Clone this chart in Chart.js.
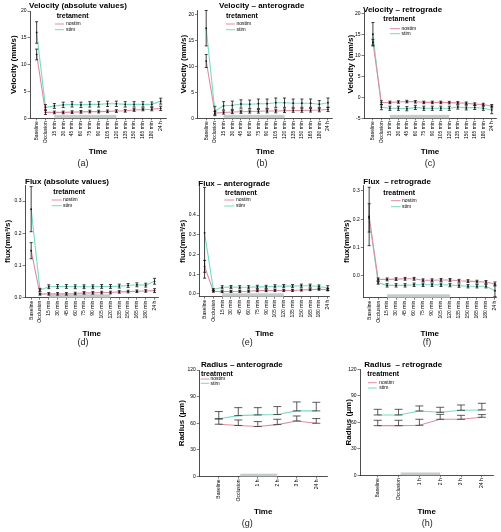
<!DOCTYPE html>
<html>
<head>
<meta charset="utf-8">
<script src="https://cdn.jsdelivr.net/npm/chart.js@4.4.1/dist/chart.umd.min.js"></script>
<style>
  html, body { margin: 0; padding: 0; background: #fff; }
  #fig { position: relative; width: 501px; height: 532px; overflow: hidden; }
  #fig canvas { position: absolute; }
</style>
</head>
<body>
<div id="fig"></div>
<script>
var timeLabels = ['Baseline', 'Occlusion', '15 min', '30 min', '45 min', '60 min', '75 min', '90 min', '105 min', '120 min', '135 min', '150 min', '165 min', '180 min', '24 h'];
var radiusLabels = ['Baseline', 'Occlusion', '1 h', '2 h', '3 h', '24 h'];

// y tick labels
var velTicks = [0, 5, 10, 15, 20];
var velRetTicks = [-5, 0, 5, 10, 15, 20];
var fluxTicks = [0, 0.1, 0.2, 0.3];
var fluxAntTicks = [0, 0.1, 0.2, 0.3, 0.4];
var radiusTicks = [0, 30, 60, 90, 120];

// (a) velocity, absolute values
var velAbsNostim = [11.9, 1.1, 1.1, 1.1, 1.15, 1.2, 1.25, 1.25, 1.3, 1.35, 1.4, 1.55, 1.65, 1.7, 1.85];
var velAbsNostimSE = [1.0, 0.4, 0.25, 0.25, 0.25, 0.25, 0.25, 0.25, 0.25, 0.25, 0.25, 0.25, 0.25, 0.3, 0.4];
var velAbsStim = [16.0, 2.05, 2.3, 2.5, 2.6, 2.5, 2.6, 2.6, 2.7, 2.7, 2.6, 2.6, 2.6, 2.6, 3.2];
var velAbsStimSE = [2.0, 0.5, 0.45, 0.5, 0.5, 0.5, 0.5, 0.5, 0.5, 0.5, 0.5, 0.5, 0.5, 0.45, 0.55];

// (b) velocity, anterograde
var velAntNostim = [11.0, 1.0, 1.1, 1.2, 1.25, 1.3, 1.35, 1.4, 1.4, 1.45, 1.5, 1.5, 1.55, 1.6, 1.7];
var velAntNostimSE = [1.25, 0.3, 0.3, 0.3, 0.3, 0.3, 0.35, 0.35, 0.35, 0.35, 0.35, 0.35, 0.35, 0.35, 0.4];
var velAntStim = [17.3, 1.4, 2.4, 2.5, 2.75, 2.7, 2.8, 2.8, 3.0, 3.0, 2.9, 2.9, 2.9, 2.7, 3.0];
var velAntStimSE = [3.4, 0.9, 0.8, 0.8, 0.8, 0.8, 0.9, 0.9, 0.9, 0.9, 0.8, 0.8, 0.8, 0.7, 0.9];

// (c) velocity, retrograde
var velRetNostim = [13.2, -1.25, -1.2, -1.1, -1.0, -1.05, -1.2, -1.2, -1.2, -1.25, -1.3, -1.4, -1.6, -1.7, -2.1];
var velRetNostimSE = [0.7, 0.45, 0.3, 0.3, 0.3, 0.3, 0.3, 0.3, 0.3, 0.3, 0.3, 0.3, 0.3, 0.3, 0.4];
var velRetStim = [15.1, -2.35, -2.6, -2.6, -2.7, -2.4, -2.6, -2.6, -2.6, -2.6, -2.3, -2.5, -2.4, -2.6, -3.0];
var velRetStimSE = [2.8, 0.6, 0.5, 0.5, 0.5, 0.5, 0.5, 0.5, 0.5, 0.5, 0.5, 0.5, 0.5, 0.5, 0.9];

// (d) flux, absolute values
var fluxAbsNostim = [0.146, 0.011, 0.012, 0.012, 0.012, 0.013, 0.015, 0.015, 0.016, 0.016, 0.018, 0.019, 0.020, 0.021, 0.022];
var fluxAbsNostimSE = [0.025, 0.003, 0.004, 0.004, 0.004, 0.004, 0.004, 0.004, 0.004, 0.004, 0.004, 0.004, 0.004, 0.004, 0.006];
var fluxAbsStim = [0.275, 0.024, 0.034, 0.035, 0.035, 0.034, 0.034, 0.034, 0.035, 0.035, 0.036, 0.038, 0.040, 0.039, 0.051];
var fluxAbsStimSE = [0.07, 0.005, 0.006, 0.006, 0.006, 0.006, 0.006, 0.006, 0.006, 0.006, 0.006, 0.006, 0.006, 0.006, 0.009];

// (e) flux, anterograde
var fluxAntNostim = [0.14, 0.013, 0.012, 0.013, 0.013, 0.014, 0.017, 0.017, 0.018, 0.018, 0.018, 0.020, 0.022, 0.024, 0.022];
var fluxAntNostimSE = [0.03, 0.004, 0.005, 0.005, 0.005, 0.005, 0.005, 0.005, 0.005, 0.005, 0.005, 0.005, 0.005, 0.005, 0.006];
var fluxAntStim = [0.31, 0.022, 0.034, 0.035, 0.034, 0.034, 0.036, 0.036, 0.039, 0.040, 0.040, 0.042, 0.042, 0.038, 0.030];
var fluxAntStimSE = [0.23, 0.005, 0.008, 0.008, 0.008, 0.008, 0.008, 0.008, 0.008, 0.008, 0.008, 0.008, 0.008, 0.008, 0.012];

// (f) flux, retrograde
var fluxRetNostim = [0.21, -0.012, -0.012, -0.011, -0.010, -0.010, -0.015, -0.015, -0.014, -0.014, -0.017, -0.018, -0.020, -0.021, -0.028];
var fluxRetNostimSE = [0.103, 0.005, 0.005, 0.005, 0.005, 0.005, 0.005, 0.005, 0.005, 0.005, 0.005, 0.005, 0.005, 0.005, 0.007];
var fluxRetStim = [0.205, -0.024, -0.033, -0.033, -0.033, -0.031, -0.031, -0.031, -0.031, -0.032, -0.034, -0.036, -0.036, -0.036, -0.052];
var fluxRetStimSE = [0.05, 0.005, 0.006, 0.006, 0.006, 0.006, 0.006, 0.006, 0.006, 0.006, 0.006, 0.006, 0.006, 0.006, 0.02];

// (g) radius, anterograde (bars drawn from mean up to mean + SE)
var radAntNostim = [58.9, 57.5, 56.3, 58.5, 62.6, 60.0];
var radAntNostimSE = [6.0, 6.2, 5.6, 6.0, 5.6, 5.3];
var radAntStim = [65.0, 68.6, 69.4, 69.8, 73.9, 73.9];
var radAntStimSE = [8.2, 9.0, 8.2, 9.0, 10.1, 9.7];

// (h) radius, retrograde
var radRetNostim = [56.2, 56.2, 56.6, 63.4, 63.4, 65.7];
var radRetNostimSE = [6.1, 6.1, 6.8, 5.6, 4.5, 3.0];
var radRetStim = [68.3, 68.3, 72.8, 71.3, 73.6, 74.0];
var radRetStimSE = [6.4, 6.4, 5.7, 5.7, 6.0, 7.5];

var FONT = '"Liberation Sans", Arial, sans-serif';
var NOSTIM = 'rgb(224,140,163)';
var STIM = 'rgb(118,220,198)';
var AXIS = '#222';

function series(nostim, nostimSE, stim, stimSE) {
  return [
    { name: 'nostim', color: NOSTIM, mean: nostim, se: nostimSE },
    { name: 'stim', color: STIM, mean: stim, se: stimSE }
  ];
}

var panels = [
  { tag: '(a)', tagPos: [83, 164], box: [0, 0, 167, 172], area: [30, 11, 166, 118.3],
    labels: timeLabels, xRange: [-0.75, 14.6], yRange: [0, 20], yTicks: velTicks, dec: 0,
    yTitle: 'Velocity (mm/s)', yTitleX: 14, timeY: 151.7, band: [2, 9],
    title: 'Velocity (absolute values)', titlePos: [29, 6],
    legend: { title: 'tretament', x: 56.7, y: 16, rows: [24, 29.7], line: [55, 64], textX: 66 },
    series: series(velAbsNostim, velAbsNostimSE, velAbsStim, velAbsStimSE) },
  { tag: '(b)', tagPos: [262, 164], box: [167, 0, 167, 172], area: [197.5, 10, 333.5, 118.3],
    labels: timeLabels, xRange: [-1.0, 14.55], yRange: [0, 20.8], yTicks: velTicks, dec: 0,
    yTitle: 'Velocity (mm/s)', yTitleX: 183.3, timeY: 151.7, band: [2, 9],
    title: 'Velocity \u2013 anterograde', titlePos: [219, 6],
    legend: { title: 'tretament', x: 226, y: 16, rows: [24, 29.7], line: [226, 235], textX: 236.5 },
    series: series(velAntNostim, velAntNostimSE, velAntStim, velAntStimSE) },
  { tag: '(c)', tagPos: [430, 164], box: [334, 0, 167, 172], area: [364, 10, 496, 118.3],
    labels: timeLabels, xRange: [-1.05, 14.5], yRange: [-5, 20.9], yTicks: velRetTicks, dec: 0,
    yTitle: 'Velocity (mm/s)', yTitleX: 350.7, timeY: 151.7, band: [2, 9],
    title: 'Velocity \u2013 retrograde', titlePos: [363, 9.3],
    legend: { title: 'tretament', x: 383.3, y: 19.3, rows: [28.7, 33.7], line: [390, 400], textX: 401.5 },
    series: series(velRetNostim, velRetNostimSE, velRetStim, velRetStimSE) },
  { tag: '(d)', tagPos: [83, 343], box: [0, 172, 167, 180], area: [25, 185, 158.5, 297.7],
    labels: timeLabels, xRange: [-0.7, 14.45], yRange: [0, 0.35], yTicks: fluxTicks, dec: 1,
    yTitle: 'flux(mm\u00b3/s)', yTitleX: 7.3, timeY: 334, band: [2, 9],
    title: 'Flux (absolute values)', titlePos: [25, 182],
    legend: { title: 'tretament', x: 53.3, y: 191.7, rows: [200, 205.7], line: [51.7, 61.7], textX: 63 },
    series: series(fluxAbsNostim, fluxAbsNostimSE, fluxAbsStim, fluxAbsStimSE) },
  { tag: '(e)', tagPos: [247.3, 343], box: [167, 172, 167, 180], area: [199.3, 186, 329.5, 296.7],
    labels: timeLabels, xRange: [-0.6, 14.2], yRange: [-0.0137, 0.547], yTicks: fluxAntTicks, dec: 1,
    yTitle: 'flux(mm\u00b3/s)', yTitleX: 182.3, timeY: 334, band: [2, 9],
    title: 'Flux \u2013 anterograde', titlePos: [198.3, 183.3],
    legend: { title: 'tretament', x: 225, y: 192.7, rows: [200, 206], line: [224.3, 234.3], textX: 236 },
    series: series(fluxAntNostim, fluxAntNostimSE, fluxAntStim, fluxAntStimSE) },
  { tag: '(f)', tagPos: [427, 343], box: [334, 172, 167, 180], area: [363.3, 185, 496.7, 297.7],
    labels: timeLabels, xRange: [-0.65, 14.15], yRange: [-0.0766, 0.321], yTicks: fluxTicks, dec: 1,
    yTitle: 'flux(mm\u00b3/s)', yTitleX: 346.7, timeY: 334, band: [2, 9],
    title: 'Flux  \u2013 retrograde', titlePos: [363.3, 182],
    legend: { title: 'treatment', x: 383.3, y: 193.3, rows: [200.7, 206.7], line: [391, 400.7], textX: 402 },
    series: series(fluxRetNostim, fluxRetNostimSE, fluxRetStim, fluxRetStimSE) },
  { tag: '(g)', tagPos: [247.3, 524], box: [167, 352, 167, 180], area: [199.3, 370, 327, 476.5],
    labels: radiusLabels, xRange: [-1.0, 5.55], yRange: [0, 120], yTicks: radiusTicks, dec: 0,
    yTitle: 'Radius (\u03bcm)', yTitleX: 181.7, timeY: 511.7, band: [1.1, 3], oneSided: true,
    title: 'Radius \u2013 anterograde', titlePos: [201, 365],
    legend: { title: 'treatment', x: 201, y: 373.7, rows: [379, 383.3], line: [200.7, 209.3], textX: 210.5 },
    series: series(radAntNostim, radAntNostimSE, radAntStim, radAntStimSE) },
  { tag: '(h)', tagPos: [427.3, 524], box: [334, 352, 167, 180], area: [360, 369.3, 493.3, 475.3],
    labels: radiusLabels, xRange: [-0.85, 5.55], yRange: [0, 120], yTicks: radiusTicks, dec: 0,
    yTitle: 'Radius (\u03bcm)', yTitleX: 348.3, timeY: 511.7, band: [1.1, 3], oneSided: true,
    title: 'Radius  \u2013 retrograde', titlePos: [364.3, 364.3],
    legend: { title: 'treatment', x: 367.3, y: 373.7, rows: [382.7, 388], line: [368, 376.7], textX: 379.3 },
    series: series(radRetNostim, radRetNostimSE, radRetStim, radRetStimSE) }
];

function makePanel(p) {
  var x0 = p.box[0], y0 = p.box[1], w = p.box[2], h = p.box[3];
  var c = document.createElement('canvas');
  c.width = w; c.height = h;
  c.style.left = x0 + 'px'; c.style.top = y0 + 'px';
  document.getElementById('fig').appendChild(c);

  // grey band, error bars, title, legend and panel tag
  var deco = {
    id: 'deco',
    beforeDatasetsDraw: function (chart) {
      var ctx = chart.ctx, xs = chart.scales.x, ca = chart.chartArea;
      var bh = p.oneSided ? 2.8 : 3.4;
      ctx.save();
      ctx.fillStyle = '#c6cbcb';
      var xa = xs.getPixelForValue(p.band[0]), xb = xs.getPixelForValue(p.band[1]);
      ctx.fillRect(xa, ca.bottom - bh, xb - xa, bh);
      ctx.restore();
    },
    afterDatasetsDraw: function (chart) {
      var ctx = chart.ctx, xs = chart.scales.x, ys = chart.scales.y;
      var cap = p.oneSided ? 4 : 1.5;
      ctx.save();
      ctx.strokeStyle = p.oneSided ? '#333' : '#111';
      ctx.fillStyle = '#111';
      ctx.lineWidth = 0.8;
      p.series.forEach(function (s) {
        s.mean.forEach(function (m, i) {
          var lo = p.oneSided ? m : m - s.se[i];
          var hi = m + s.se[i];
          var px = xs.getPixelForValue(i);
          var pl = ys.getPixelForValue(lo), ph = ys.getPixelForValue(hi);
          ctx.beginPath();
          ctx.moveTo(px, pl); ctx.lineTo(px, ph);
          ctx.moveTo(px - cap, pl); ctx.lineTo(px + cap, pl);
          ctx.moveTo(px - cap, ph); ctx.lineTo(px + cap, ph);
          ctx.stroke();
          if (!p.oneSided) {
            ctx.beginPath();
            ctx.arc(px, ys.getPixelForValue(m), 0.9, 0, Math.PI * 2);
            ctx.fill();
          }
        });
      });
      ctx.restore();
    },
    afterDraw: function (chart) {
      var ctx = chart.ctx, lg = p.legend;
      ctx.save();
      ctx.textBaseline = 'middle';
      ctx.textAlign = 'left';
      ctx.fillStyle = '#000';
      ctx.font = 'bold 8px ' + FONT;
      ctx.fillText(p.title, p.titlePos[0] - x0, p.titlePos[1] - y0);
      ctx.font = 'bold 7px ' + FONT;
      ctx.fillText(lg.title, lg.x - x0, lg.y - y0);
      ctx.font = '5px ' + FONT;
      p.series.forEach(function (s, k) {
        var yy = lg.rows[k] - y0;
        ctx.strokeStyle = s.color;
        ctx.lineWidth = 1;
        ctx.beginPath();
        ctx.moveTo(lg.line[0] - x0, yy); ctx.lineTo(lg.line[1] - x0, yy);
        ctx.stroke();
        ctx.fillText(s.name, lg.textX - x0, yy);
      });
      ctx.textAlign = 'center';
      ctx.fillStyle = '#222';
      ctx.font = '9px ' + FONT;
      ctx.fillText(p.tag, p.tagPos[0] - x0, p.tagPos[1] - y0);
      ctx.restore();
    }
  };

  return new Chart(c.getContext('2d'), {
    type: 'line',
    data: {
      datasets: p.series.map(function (s) {
        return {
          label: s.name,
          data: s.mean.map(function (v, i) { return { x: i, y: v }; }),
          borderColor: s.color,
          borderWidth: 1.1,
          pointRadius: 0,
          tension: 0,
          fill: false
        };
      })
    },
    options: {
      responsive: false,
      animation: false,
      events: [],
      layout: { padding: { left: 0, top: p.area[1] - y0, right: x0 + w - p.area[2], bottom: 0 } },
      plugins: { legend: { display: false }, tooltip: { enabled: false } },
      scales: {
        x: {
          type: 'linear',
          min: p.xRange[0],
          max: p.xRange[1],
          afterBuildTicks: function (s) { s.ticks = p.labels.map(function (_, i) { return { value: i }; }); },
          afterFit: function (s) { s.height = y0 + h - p.area[3]; },
          border: { color: AXIS, width: 0.8 },
          grid: { drawOnChartArea: false, drawTicks: true, tickLength: 2, color: AXIS, lineWidth: 0.6 },
          ticks: {
            autoSkip: false, minRotation: 90, maxRotation: 90, padding: 1,
            color: '#000', font: { family: FONT, size: 5, lineHeight: 1 },
            callback: function (v) { return p.labels[v]; }
          },
          title: {
            display: true, text: 'Time', color: '#000',
            font: { family: FONT, size: 8, weight: 'bold' },
            padding: { top: 0, bottom: (y0 + h) - p.timeY - 4.8 }
          }
        },
        y: {
          min: p.yRange[0],
          max: p.yRange[1],
          afterBuildTicks: function (s) { s.ticks = p.yTicks.map(function (v) { return { value: v }; }); },
          afterFit: function (s) { s.width = p.area[0] - x0; },
          border: { color: AXIS, width: 0.8 },
          grid: { drawOnChartArea: false, drawTicks: true, tickLength: 2.5, color: AXIS, lineWidth: 0.6 },
          ticks: {
            padding: 1, color: '#000', font: { family: FONT, size: 5, lineHeight: 1 },
            callback: function (v) { return v.toFixed(p.dec); }
          },
          title: {
            display: true, text: p.yTitle, color: '#000',
            font: { family: FONT, size: 8, weight: 'bold' },
            padding: { top: p.yTitleX - x0 - 4.8, bottom: 0 }
          }
        }
      }
    },
    plugins: [deco]
  });
}

panels.forEach(makePanel);
</script>
</body>
</html>
